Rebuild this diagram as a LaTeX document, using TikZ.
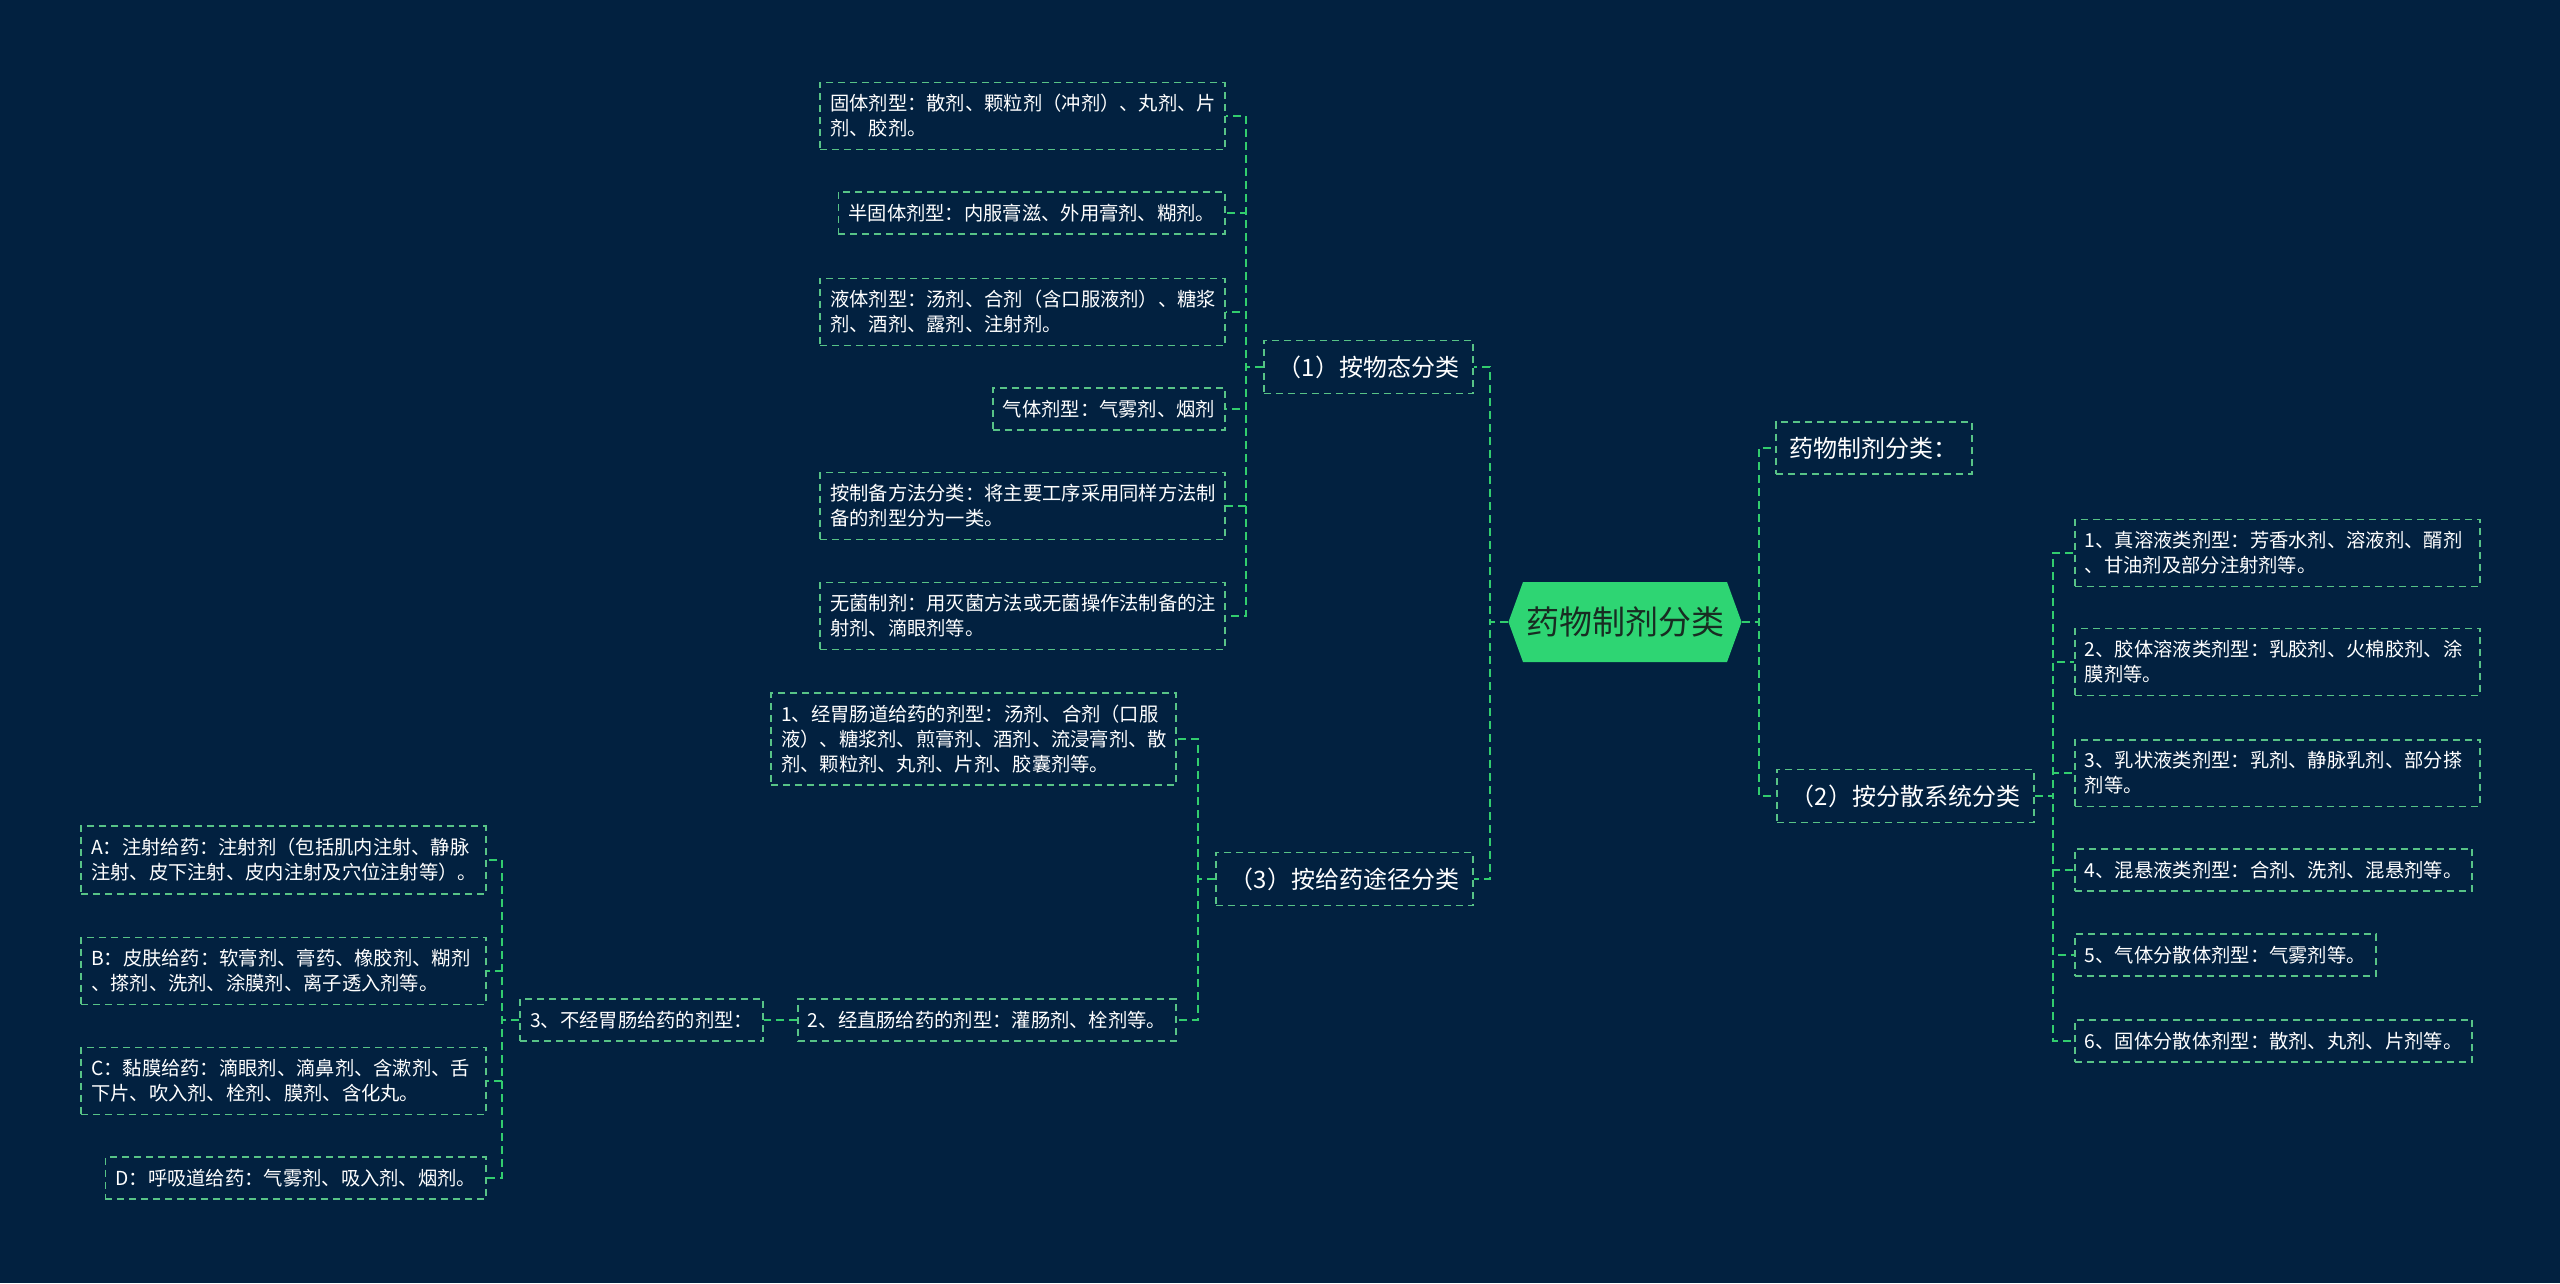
\documentclass[tikz,border=0pt]{standalone}
\usepackage{fontspec}
\setmainfont{Noto Sans CJK SC}
\usetikzlibrary{shapes.symbols}
\definecolor{bgblue}{RGB}{2,33,64}
\definecolor{rootgreen}{RGB}{46,213,115}
\definecolor{rootink}{RGB}{24,44,34}
\definecolor{linkgreen}{RGB}{50,205,110}
\definecolor{boxgreen}{RGB}{88,195,135}
\begin{document}
\begin{tikzpicture}[x=1pt,y=-1pt,
    leafbox/.style={draw=boxgreen,line width=1.8pt,dash pattern=on 7pt off 5pt,
      text=white,align=left,inner xsep=10pt,inner ysep=12pt,
      font=\fontsize{19.3}{25}\selectfont},
    leafwide/.style={leafbox,text width=385pt},
    catbox/.style={leafbox,inner xsep=14pt,inner ysep=15pt,
      font=\fontsize{24}{30}\selectfont},
    rootbox/.style={signal,signal to=east and west,signal pointer angle=140,
      fill=rootgreen,text=rootink,minimum height=80pt,inner xsep=3pt,
      font=\fontsize{33}{40}\selectfont},
    link/.style={draw=linkgreen,line width=2.4pt,dash pattern=on 8pt off 5pt}]
  \fill[bgblue] (0,0) rectangle (2560,1283);
  \useasboundingbox (0,0) rectangle (2560,1283);
  % centre and first level
  \node[rootbox] (root) at (1625,622) {药物制剂分类};
  \node[catbox,anchor=east] (s1) at (1474,367) {（1）按物态分类};
  \node[catbox,anchor=east] (s3) at (1474,879) {（3）按给药途径分类};
  \node[catbox,anchor=west] (r1) at (1775,448) {药物制剂分类：};
  \node[catbox,anchor=west] (r2) at (1776,796) {（2）按分散系统分类};
  \foreach \nm in {s1,s3}
    \draw[link] (root.west) -- ++(-18,0) |- (\nm.east);
  \foreach \nm in {r1,r2}
    \draw[link] (root.east) -- ++(17,0) |- (\nm.west);
  % by state
  \foreach \nm/\yy/\kind/\txt in {
      st1/116/leafwide/{固体剂型：散剂、颗粒剂（冲剂）、丸剂、片\\剂、胶剂。},
      st2/213/leafbox/{半固体剂型：内服膏滋、外用膏剂、糊剂。},
      st3/312/leafwide/{液体剂型：汤剂、合剂（含口服液剂）、糖浆\\剂、酒剂、露剂、注射剂。},
      st4/409/leafbox/{气体剂型：气雾剂、烟剂},
      st5/506/leafwide/{按制备方法分类：将主要工序采用同样方法制\\备的剂型分为一类。},
      st6/616/leafwide/{无菌制剂：用灭菌方法或无菌操作法制备的注\\射剂、滴眼剂等。}} {
    \node[\kind,anchor=east] (\nm) at (1226,\yy) {\txt};
    \draw[link] (s1.west) -- ++(-17,0) |- (\nm.east);
  }
  % by route
  \node[leafwide,anchor=east] (g1) at (1177,739)
    {1、经胃肠道给药的剂型：汤剂、合剂（口服\\液）、糖浆剂、煎膏剂、酒剂、流浸膏剂、散\\剂、颗粒剂、丸剂、片剂、胶囊剂等。};
  \node[leafbox,anchor=east] (g2) at (1177,1020) {2、经直肠给药的剂型：灌肠剂、栓剂等。};
  \node[leafbox,anchor=east] (t3) at (764,1020) {3、不经胃肠给药的剂型：};
  \foreach \nm in {g1,g2}
    \draw[link] (s3.west) -- ++(-17,0) |- (\nm.east);
  \draw[link] (g2.west) -- (t3.east);
  \foreach \nm/\yy/\kind/\txt in {
      ra/860/leafwide/{A：注射给药：注射剂（包括肌内注射、静脉\\注射、皮下注射、皮内注射及穴位注射等）。},
      rb/971/leafwide/{B：皮肤给药：软膏剂、膏药、橡胶剂、糊剂\\、搽剂、洗剂、涂膜剂、离子透入剂等。},
      rc/1081/leafwide/{C：黏膜给药：滴眼剂、滴鼻剂、含漱剂、舌\\下片、吹入剂、栓剂、膜剂、含化丸。},
      rd/1178/leafbox/{D：呼吸道给药：气雾剂、吸入剂、烟剂。}} {
    \node[\kind,anchor=east] (\nm) at (487,\yy) {\txt};
    \draw[link] (t3.west) -- ++(-17,0) |- (\nm.east);
  }
  % by dispersion system
  \foreach \nm/\yy/\kind/\txt in {
      ds1/553/leafwide/{1、真溶液类剂型：芳香水剂、溶液剂、醑剂\\、甘油剂及部分注射剂等。},
      ds2/662/leafwide/{2、胶体溶液类剂型：乳胶剂、火棉胶剂、涂\\膜剂等。},
      ds3/773/leafwide/{3、乳状液类剂型：乳剂、静脉乳剂、部分搽\\剂等。},
      ds4/870/leafbox/{4、混悬液类剂型：合剂、洗剂、混悬剂等。},
      ds5/955/leafbox/{5、气体分散体剂型：气雾剂等。},
      ds6/1041/leafbox/{6、固体分散体剂型：散剂、丸剂、片剂等。}} {
    \node[\kind,anchor=west] (\nm) at (2074,\yy) {\txt};
    \draw[link] (r2.east) -- ++(18,0) |- (\nm.west);
  }
\end{tikzpicture}
\end{document}
